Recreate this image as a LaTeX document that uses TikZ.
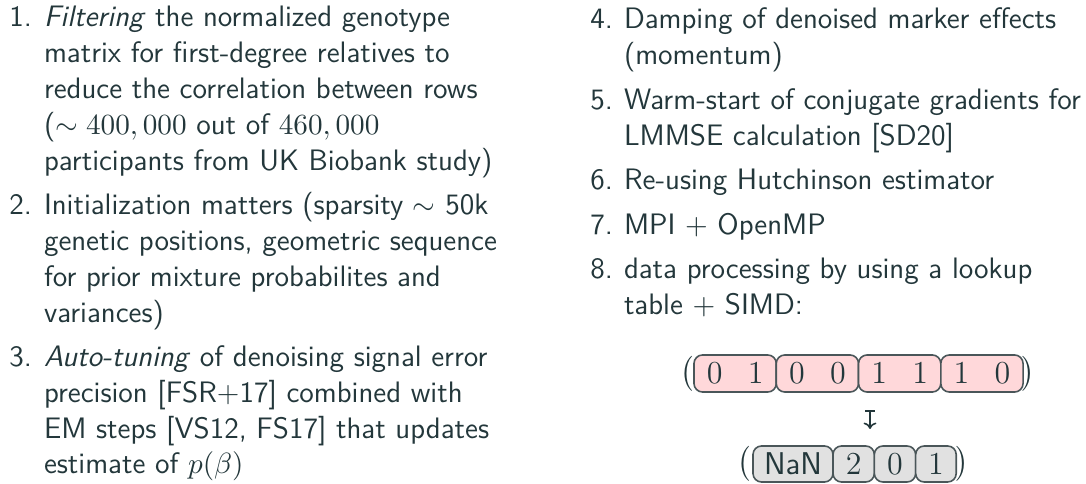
\documentclass[tikz,border=0pt]{standalone}
\usepackage{fontspec}
\usepackage{amsmath}
\usetikzlibrary{arrows.meta}
\definecolor{txt}{HTML}{23373B}
\definecolor{pinkfill}{HTML}{FFD8DA}
\definecolor{grayfill}{HTML}{E1E1E1}
\definecolor{boxline}{HTML}{4A5659}
\begin{document}
\begin{tikzpicture}[x=0.375pt,y=-0.375pt,
  every node/.style={text=txt, font=\fontsize{11.1}{13}\selectfont\sffamily, inner sep=0pt, outer sep=0pt},
  ln/.style={anchor=base west},
  num/.style={anchor=base east},
  pinkbox/.style={draw=boxline, fill=pinkfill, line width=0.6pt, rounded corners=3.2pt,
    minimum width=30.85pt, minimum height=13.9pt, anchor=west, font=\fontsize{11.8}{13}\selectfont\sffamily},
  graybox/.style={draw=boxline, fill=grayfill, line width=0.6pt, rounded corners=3.2pt,
    minimum height=13.5pt, anchor=west, font=\fontsize{11.8}{13}\selectfont\sffamily},
  paren/.style={anchor=center}
]
\useasboundingbox (0,0) rectangle (1086,484);
% left column
\node[num] (n1) at (32,27) {1.};
\node[ln] (i1a) at (44,27) {\textit{Filtering} the normalized genotype};
\node[ln] (i1b) at (44,62.8) {matrix for first-degree relatives to};
\node[ln] (i1c) at (44,98.6) {reduce the correlation between rows};
\node[ln] (i1d) at (44,134.4) {($\sim 400,000$ out of $460,000$};
\node[ln] (i1e) at (44,170.2) {participants from UK Biobank study)};
\node[num] (n2) at (32,214.7) {2.};
\node[ln] (i2a) at (44,214.7) {Initialization matters (sparsity $\sim$ 50k};
\node[ln] (i2b) at (44,250.5) {genetic positions, geometric sequence};
\node[ln] (i2c) at (44,286.3) {for prior mixture probabilites and};
\node[ln] (i2d) at (44,322.1) {variances)};
\node[num] (n3) at (32,366.6) {3.};
\node[ln] (i3a) at (44,366.6) {\textit{Auto-tuning} of denoising signal error};
\node[ln] (i3b) at (44,402.4) {precision [FSR+17] combined with};
\node[ln] (i3c) at (44,438.2) {EM steps [VS12, FS17] that updates};
\node[ln] (i3d) at (44,474) {estimate of $p(\beta)$};
% right column
\node[num] (n4) at (613,29) {4.};
\node[ln] (i4a) at (624,29) {Damping of denoised marker effects};
\node[ln] (i4b) at (624,64.8) {(momentum)};
\node[num] (n5) at (613,109.3) {5.};
\node[ln] (i5a) at (624,109.3) {Warm-start of conjugate gradients for};
\node[ln] (i5b) at (624,145.1) {LMMSE calculation [SD20]};
\node[num] (n6) at (613,189.6) {6.};
\node[ln] (i6a) at (624,189.6) {Re-using Hutchinson estimator};
\node[num] (n7) at (613,234.1) {7.};
\node[ln] (i7a) at (624,234.1) {MPI $+$ OpenMP};
\node[num] (n8) at (613,278.6) {8.};
\node[ln] (i8a) at (624,278.6) {data processing by using a lookup};
\node[ln] (i8b) at (624,314.4) {table $+$ SIMD:};
% top row of bits
\node[paren] (lp1) at (687,374) {$\bigl($};
\node[pinkbox] (b1) at (694,373.5) {$0\hspace{9.5pt}1$};
\node[pinkbox] (b2) at (b1.east) {$0\hspace{9.5pt}0$};
\node[pinkbox] (b3) at (b2.east) {$1\hspace{9.5pt}1$};
\node[pinkbox] (b4) at (b3.east) {$1\hspace{9.5pt}0$};
\node[paren] (rp1) at (1028,374) {$\bigr)$};
% arrow
\coordinate (atop) at (870,410);
\coordinate (abot) at (870,429);
\draw[txt, line width=0.6pt, {Bar[width=3.4pt]}-{To[length=2.4pt,width=4.8pt]}] (atop) -- (abot);
% bottom row
\node[paren] (lp2) at (744,464) {$\bigl($};
\node[graybox, minimum width=30pt] (c1) at (753,464) {NaN};
\node[graybox, minimum width=15.5pt] (c2) at (c1.east) {$2$};
\node[graybox, minimum width=15.5pt] (c3) at (c2.east) {$0$};
\node[graybox, minimum width=15.2pt] (c4) at (c3.east) {$1$};
\node[paren] (rp2) at (962,464) {$\bigr)$};
\end{tikzpicture}
\end{document}
